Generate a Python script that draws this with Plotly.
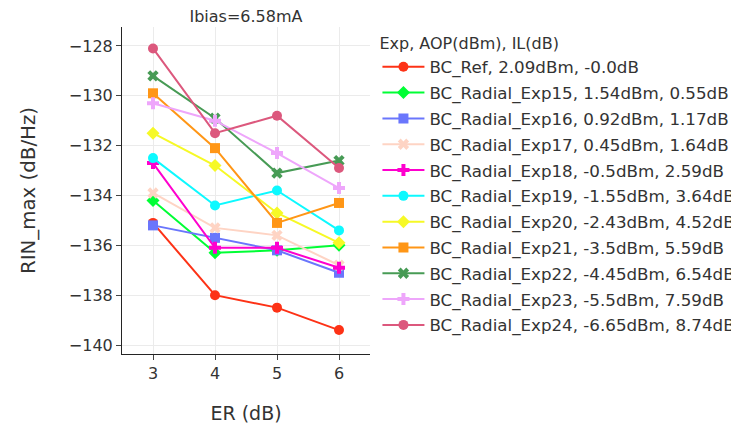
import plotly.graph_objects as go

er = [3, 4, 5, 6]
names = [
    "BC_Ref, 2.09dBm, -0.0dB",
    "BC_Radial_Exp15, 1.54dBm, 0.55dB",
    "BC_Radial_Exp16, 0.92dBm, 1.17dB",
    "BC_Radial_Exp17, 0.45dBm, 1.64dB",
    "BC_Radial_Exp18, -0.5dBm, 2.59dB",
    "BC_Radial_Exp19, -1.55dBm, 3.64dB",
    "BC_Radial_Exp20, -2.43dBm, 4.52dB",
    "BC_Radial_Exp21, -3.5dBm, 5.59dB",
    "BC_Radial_Exp22, -4.45dBm, 6.54dB",
    "BC_Radial_Exp23, -5.5dBm, 7.59dB",
    "BC_Radial_Exp24, -6.65dBm, 8.74dB",
]
rin_ref = [-135.1, -138.0, -138.5, -139.4]
rin_exp15 = [-134.2, -136.3, -136.2, -136.0]
rin_exp16 = [-135.2, -135.7, -136.2, -137.1]
rin_exp17 = [-133.9, -135.3, -135.6, -136.8]
rin_exp18 = [-132.7, -136.1, -136.1, -136.9]
rin_exp19 = [-132.5, -134.4, -133.8, -135.4]
rin_exp20 = [-131.5, -132.8, -134.7, -135.9]
rin_exp21 = [-129.9, -132.1, -135.1, -134.3]
rin_exp22 = [-129.2, -130.9, -133.1, -132.6]
rin_exp23 = [-130.3, -131.0, -132.3, -133.7]
rin_exp24 = [-128.1, -131.5, -130.8, -132.9]
series = [rin_ref, rin_exp15, rin_exp16, rin_exp17, rin_exp18, rin_exp19,
          rin_exp20, rin_exp21, rin_exp22, rin_exp23, rin_exp24]

colors = ['#FD3216', '#00FE35', '#6A76FC', '#FED4C4', '#FE00CE', '#0DF9FF',
          '#F6F926', '#FF9616', '#479B55', '#EEA6FB', '#DC587D']
symbols = ['circle', 'diamond', 'square', 'x', 'cross']

fig = go.Figure()
for i, (n, v) in enumerate(zip(names, series)):
    fig.add_trace(go.Scatter(
        x=er, y=v, name=n, mode='lines+markers', legendgroup=f"g{i}",
        line=dict(color=colors[i], width=2),
        marker=dict(symbol=symbols[i % 5], size=10, color=colors[i]),
    ))

font = "DejaVu Sans"
fig.update_layout(
    width=731, height=418,
    template="simple_white",
    font=dict(family=font, size=16, color="#333"),
    margin=dict(l=114, r=369, t=19, b=72, autoexpand=False),
    title=dict(text="Ibias=6.58mA", x=0.5, xref="paper", xanchor="center",
               y=0.981, yanchor="middle", font=dict(size=16)),
    legend=dict(title=dict(text="Exp, AOP(dBm), IL(dB)", font=dict(size=16)),
                font=dict(size=16.7), x=1.03, y=0.995, maxheight=410,
                itemwidth=42,
                xanchor="left", yanchor="top", tracegroupgap=1.1),
)
fig.update_xaxes(title_text="ER (dB)", title_font=dict(size=19), title_standoff=24,
                 range=[2.5, 6.5], dtick=1, showgrid=True, gridcolor="#ebebeb",
                 ticks="outside", ticklen=5, tickfont=dict(size=16), automargin=False)
fig.update_yaxes(title_text="RIN_max (dB/Hz)", title_font=dict(size=19.8),
                 title_standoff=27, range=[-140.36, -127.24], dtick=2, showgrid=True,
                 gridcolor="#ebebeb", ticks="outside", ticklen=5,
                 tickfont=dict(size=16), automargin=False)
fig.write_html("out.html")
